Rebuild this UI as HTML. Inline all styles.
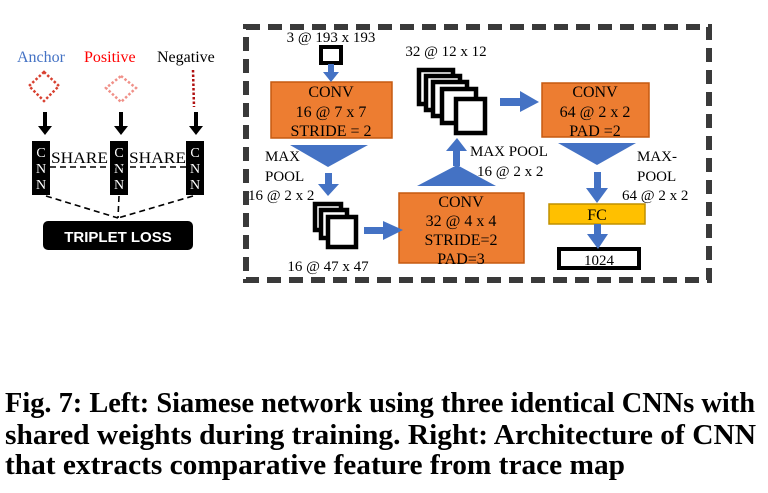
<!DOCTYPE html>
<html><head><meta charset="utf-8"><style>
html,body{margin:0;padding:0;background:#fff;}
svg{display:block;}
</style></head><body>
<svg width="768" height="493" viewBox="0 0 768 493" xmlns="http://www.w3.org/2000/svg">
<!-- LEFT -->
<g font-family="Liberation Serif, serif" font-size="16">
<text x="17" y="62" fill="#4472C4">Anchor</text>
<text x="84" y="62" fill="#FF0000">Positive</text>
<text x="157" y="62" fill="#000">Negative</text>
</g>
<g fill="none" stroke-width="2.5" stroke-dasharray="2.5 2">
<polygon points="44,72 59,86 44,101 29,86" stroke="#d84030"/>
<polygon points="121,76 136,88 121,102 106,88" stroke="#f09088"/>
<line x1="193" y1="70" x2="194" y2="107" stroke="#b01010"/>
</g>
<g fill="#000">
<rect x="43" y="112" width="4" height="15"/><polygon points="38,126 52,126 45,135"/>
<rect x="119" y="112" width="4" height="15"/><polygon points="114,126 128,126 121,135"/>
<rect x="194" y="112" width="4" height="15"/><polygon points="189,126 203,126 196,135"/>
</g>
<g fill="#000">
<rect x="32" y="141" width="18" height="54"/>
<rect x="110" y="141" width="18" height="54"/>
<rect x="186" y="141" width="18" height="54"/>
</g>
<g font-family="Liberation Serif, serif" font-size="14" fill="#fff" text-anchor="middle">
<text x="41" y="157">C</text><text x="41" y="173">N</text><text x="41" y="189">N</text>
<text x="119" y="157">C</text><text x="119" y="173">N</text><text x="119" y="189">N</text>
<text x="195" y="157">C</text><text x="195" y="173">N</text><text x="195" y="189">N</text>
</g>
<g font-family="Liberation Serif, serif" font-size="16" fill="#000">
<text x="51" y="163" textLength="57" lengthAdjust="spacingAndGlyphs">SHARE</text><text x="129" y="163" textLength="57" lengthAdjust="spacingAndGlyphs">SHARE</text>
</g>
<g stroke="#000" stroke-width="1.6" stroke-dasharray="6 4" fill="none">
<line x1="50" y1="167" x2="186" y2="167"/>
<line x1="46" y1="196" x2="118" y2="218"/>
<line x1="119" y1="196" x2="118" y2="218"/>
<line x1="193" y1="196" x2="118" y2="218"/>
</g>
<rect x="43" y="221" width="150" height="29" rx="5" fill="#000"/>
<text x="118" y="242" font-family="Liberation Sans, sans-serif" font-weight="bold" font-size="15" fill="#fff" text-anchor="middle">TRIPLET LOSS</text>

<!-- RIGHT dashed box -->
<rect x="246" y="27" width="463" height="253" fill="none" stroke="#3a3a3a" stroke-width="6" stroke-dasharray="14 8"/>

<g font-family="Liberation Serif, serif" font-size="15" fill="#000">
<text x="331" y="42" text-anchor="middle">3 @ 193 x 193</text>
<text x="446" y="56" text-anchor="middle">32 @ 12 x 12</text>
<text x="265" y="161">MAX</text>
<text x="265" y="181">POOL</text>
<text x="248" y="200">16 @ 2 x 2</text>
<text x="328" y="271" text-anchor="middle">16 @ 47 x 47</text>
<text x="470" y="156">MAX POOL</text>
<text x="477" y="176">16 @ 2 x 2</text>
<text x="637" y="161">MAX-</text>
<text x="637" y="181">POOL</text>
<text x="622" y="200">64 @ 2 x 2</text>
</g>
<rect x="321" y="47" width="20" height="16" fill="#fff" stroke="#000" stroke-width="4"/>
<g fill="#ED7D31" stroke="#C55A11" stroke-width="1.5">
<rect x="271" y="82" width="121" height="56"/>
<rect x="399" y="193" width="125" height="70"/>
<rect x="542" y="83" width="107" height="54"/>
</g>
<g font-family="Liberation Serif, serif" font-size="16" fill="#000" text-anchor="middle">
<text x="331" y="97">CONV</text><text x="331" y="117">16 @ 7 x 7</text><text x="331" y="136">STRIDE = 2</text>
<text x="461" y="207">CONV</text><text x="461" y="226">32 @ 4 x 4</text><text x="461" y="245">STRIDE=2</text><text x="461" y="264">PAD=3</text>
<text x="595" y="97">CONV</text><text x="595" y="117">64 @ 2 x 2</text><text x="595" y="136">PAD =2</text>
</g>
<rect x="549" y="204" width="96" height="20" fill="#FFC000" stroke="#BF9000" stroke-width="1.5"/>
<text x="597" y="220" font-family="Liberation Serif, serif" font-size="16" text-anchor="middle">FC</text>
<rect x="559" y="249" width="80" height="19" fill="#fff" stroke="#000" stroke-width="4"/>
<text x="599" y="265" font-family="Liberation Serif, serif" font-size="15" text-anchor="middle">1024</text>
<g fill="#4472C4">
<polygon points="290,145 368,145 328,167"/>
<polygon points="417,186 496,186 457,165"/>
<polygon points="558,143 636,143 597,165"/>
<rect x="328" y="64" width="6" height="9"/><polygon points="323,72 339,72 331,82"/>
<rect x="325" y="173" width="7" height="12"/><polygon points="318,184 339,184 328,196"/>
<rect x="364" y="227" width="20" height="7"/><polygon points="383,221 383,240 403,230"/>
<rect x="453" y="150" width="7" height="16"/><polygon points="446,151 467,151 457,138"/>
<rect x="500" y="98" width="22" height="8"/><polygon points="520,91 520,112 539,102"/>
<rect x="594" y="172" width="7" height="18"/><polygon points="586,188 608,188 597,203"/>
<rect x="594" y="224" width="7" height="12"/><polygon points="587,234 608,234 598,249"/>
</g>
<!-- stack 1 -->
<g fill="#fff" stroke="#000" stroke-width="4.5">
<rect x="315" y="204" width="26" height="26"/>
<rect x="321" y="210" width="26" height="28"/>
<rect x="328" y="217" width="28" height="30"/>
</g>
<!-- stack 2 -->
<g fill="#fff" stroke="#000" stroke-width="4.5">
<rect x="419" y="70" width="34" height="34"/>
<rect x="426" y="76" width="34" height="34"/>
<rect x="433" y="82" width="34" height="34"/>
<rect x="442" y="89" width="34" height="34"/>
<rect x="456" y="99" width="29" height="34"/>
</g>

<!-- caption -->
<g font-family="Liberation Serif, serif" font-weight="bold" font-size="28" fill="#000">
<text x="5" y="412" textLength="750" lengthAdjust="spacingAndGlyphs">Fig. 7: Left: Siamese network using three identical CNNs with</text>
<text x="5" y="444" textLength="751" lengthAdjust="spacingAndGlyphs">shared weights during training. Right: Architecture of CNN</text>
<text x="5" y="474" textLength="620" lengthAdjust="spacingAndGlyphs">that extracts comparative feature from trace map</text>
</g>
</svg>
</body></html>
